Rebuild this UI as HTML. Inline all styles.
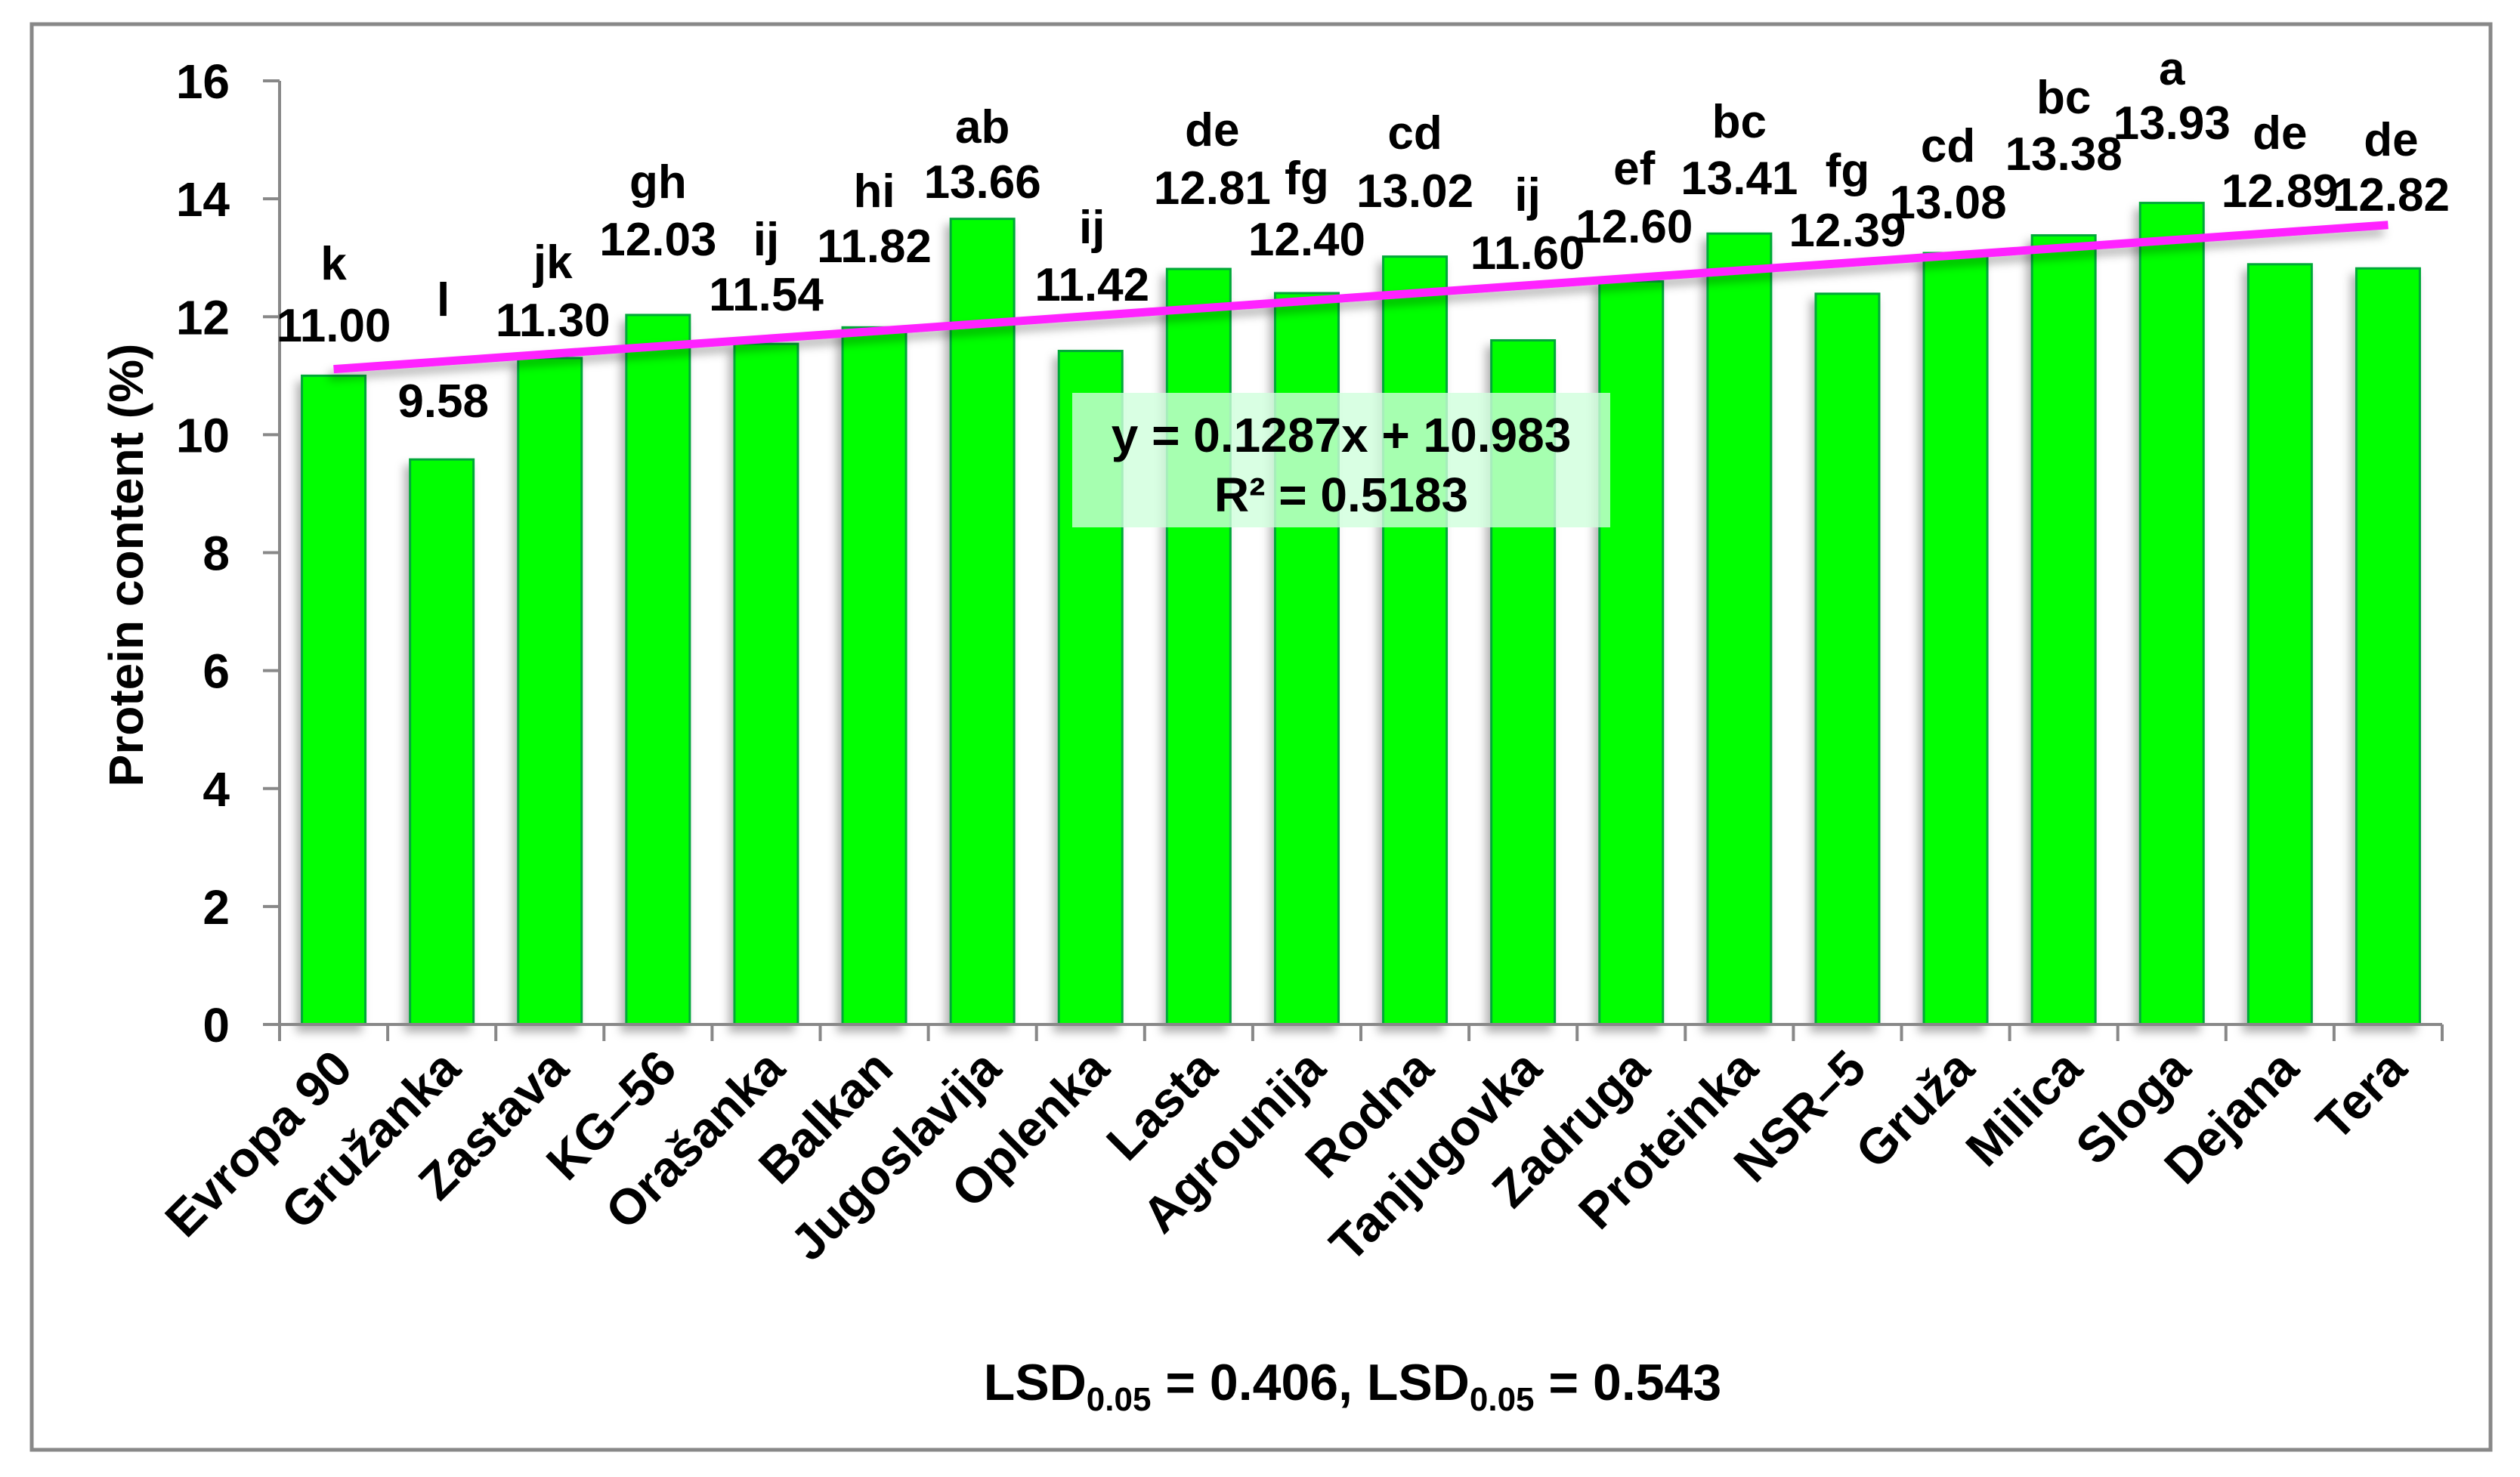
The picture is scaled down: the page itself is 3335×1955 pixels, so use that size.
<!DOCTYPE html>
<html><head><meta charset="utf-8"><style>
html,body{margin:0;padding:0;background:#fff;}
svg{display:block;font-family:"Liberation Sans",sans-serif;font-weight:bold;}
</style></head><body>
<svg id="chart" width="3335" height="1955" viewBox="0 0 3335 1955" xmlns="http://www.w3.org/2000/svg">
<defs>
<filter id="sh" x="-20%" y="-20%" width="140%" height="140%"><feDropShadow dx="-6" dy="9" stdDeviation="6" flood-color="#000" flood-opacity="0.3"/></filter>
</defs>
<rect x="42" y="32" width="3254" height="1887" fill="#fff" stroke="#888" stroke-width="5"/>
<g id="bars"></g>
<g id="trend"></g>
<g id="axes"></g>
<g id="labels"></g>
<text x="172" y="748" font-size="64" text-anchor="middle" transform="rotate(-90 172 748)" dominant-baseline="middle">Protein content (%)</text>
<g>
<rect x="1419" y="520" width="712" height="178" fill="#d0ffdc" fill-opacity="0.8"/>
<text x="1775" y="598" font-size="64" text-anchor="middle">y = 0.1287x + 10.983</text>
<text x="1775" y="677" font-size="64" text-anchor="middle">R² = 0.5183</text>
</g>
<text x="1790" y="1853" font-size="68" text-anchor="middle">LSD<tspan font-size="44" dy="14">0.05</tspan><tspan dy="-14"> = 0.406,  LSD</tspan><tspan font-size="44" dy="14">0.05</tspan><tspan dy="-14"> = 0.543</tspan></text>
</svg>
<script>
const categories=["Evropa 90","Gružanka","Zastava","KG–56","Orašanka","Balkan","Jugoslavija","Oplenka","Lasta","Agrounija","Rodna","Tanjugovka","Zadruga","Proteinka","NSR–5","Gruža","Milica","Sloga","Dejana","Tera"];
const values=[11.00,9.58,11.30,12.03,11.54,11.82,13.66,11.42,12.81,12.40,13.02,11.60,12.60,13.41,12.39,13.08,13.38,13.93,12.89,12.82];
const letters=["k","l","jk","gh","ij","hi","ab","ij","de","fg","cd","ij","ef","bc","fg","cd","bc","a","de","de"];
const yTicks=[0,2,4,6,8,10,12,14,16];
const trendSlope=0.1287, trendIntercept=10.983;
// manual label placement (layout, not data): y of letter / value label centers in px
const letterY=[348,396,346,240,316,252,167,300,171,235,175,257,222,160,225,192,128,90,175,184];
const valueY=[430,530,423,316,389,325,240,376,248,316,252,334,299,235,304,267,203,162,252,257];
const valueDX=[0,2,4,0,0,0,0,2,18,0,0,6,4,0,0,-10,0,0,0,4];

const X0=370,X1=3232,Y0=1356,Y16=107;
const band=(X1-X0)/categories.length;
const xc=i=>X0+band*(i+0.5);
const y=v=>Y0-(v/16)*(Y0-Y16);
const NS="http://www.w3.org/2000/svg";
function mk(tag,attrs,parent,txt){const e=document.createElementNS(NS,tag);for(const k in attrs)e.setAttribute(k,attrs[k]);if(txt!==undefined)e.textContent=txt;parent.appendChild(e);return e;}
const gb=document.getElementById('bars'),gt=document.getElementById('trend'),ga=document.getElementById('axes'),gl=document.getElementById('labels');
gb.setAttribute('filter','url(#sh)');
const bw=84;
values.forEach((v,i)=>{
  const r=mk('rect',{x:xc(i)-bw/2,y:y(v),width:bw,height:Y0-y(v),fill:'#00ff00',stroke:'#00a838','stroke-width':3},gb);
  
  
});
gt.setAttribute('filter','url(#sh)');
const tl=mk('line',{x1:xc(0),y1:y(trendSlope*1+trendIntercept),x2:xc(categories.length-1),y2:y(trendSlope*categories.length+trendIntercept),stroke:'#ff22ff','stroke-width':11},gt);


const ya=mk('line',{x1:X0,y1:Y16,x2:X0,y2:Y0,stroke:'#888','stroke-width':4},ga);


const xa=mk('line',{x1:X0-22,y1:Y0,x2:X1,y2:Y0,stroke:'#888','stroke-width':4},ga);


yTicks.forEach(t=>{
  mk('line',{x1:X0-22,y1:y(t),x2:X0,y2:y(t),stroke:'#888','stroke-width':4},ga);
  const tx=mk('text',{x:304,y:y(t)+23,'font-size':64,'text-anchor':'end'},ga,String(t));
  
  
});
for(let i=0;i<=categories.length;i++){mk('line',{x1:X0+band*i,y1:Y0,x2:X0+band*i,y2:Y0+22,stroke:'#888','stroke-width':4},ga);}
categories.forEach((c,i)=>{
  const ax=xc(i)+28,ay=1418;
  const t=mk('text',{x:ax,y:ay,'font-size':66,'text-anchor':'end',transform:`rotate(-45 ${ax} ${ay})`},ga,c);
  
  
});
values.forEach((v,i)=>{
  const a=mk('text',{x:xc(i)+valueDX[i],y:letterY[i]+22,'font-size':62,'text-anchor':'middle'},gl,letters[i]);
  
  
  const b=mk('text',{x:xc(i)+valueDX[i],y:valueY[i]+22,'font-size':62,'text-anchor':'middle'},gl,v.toFixed(2));
  
  
});
</script>
</body></html>
